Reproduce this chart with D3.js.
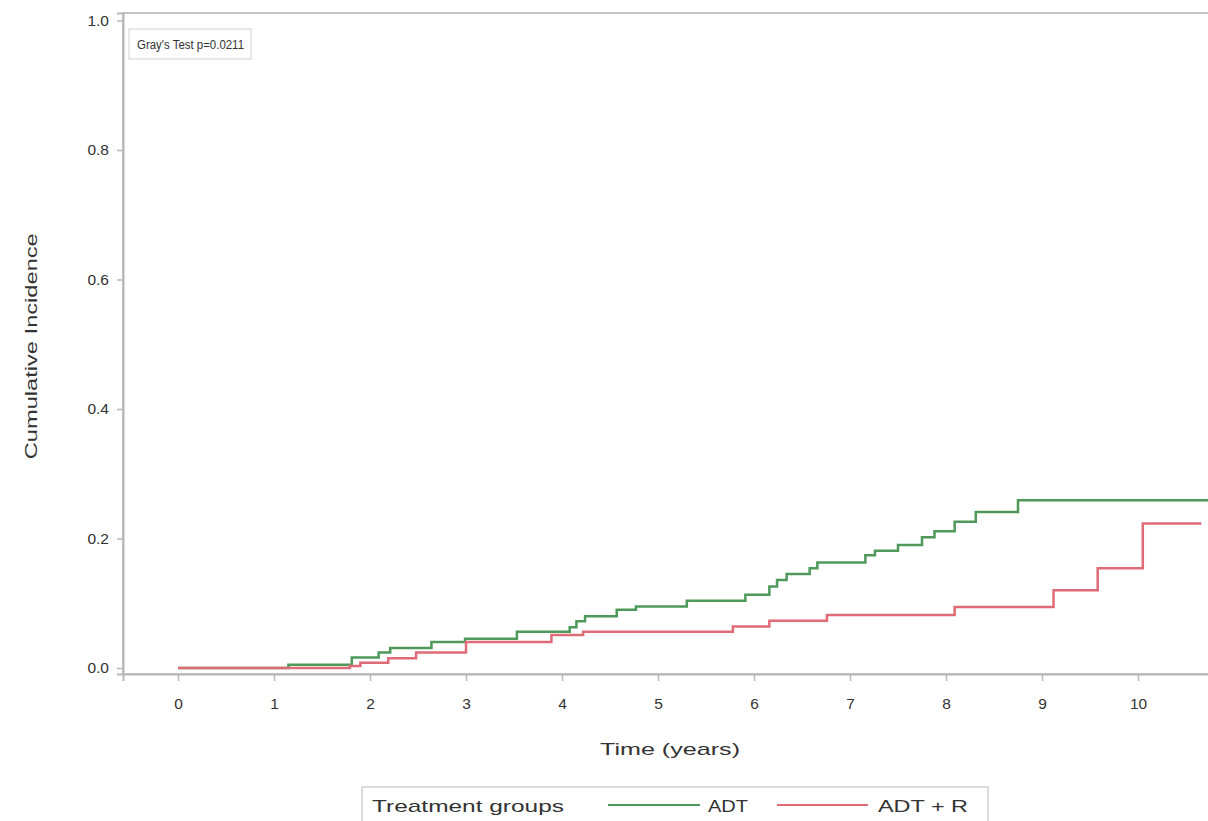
<!DOCTYPE html>
<html>
<head>
<meta charset="utf-8">
<script src="https://cdn.jsdelivr.net/npm/d3@7/dist/d3.min.js"></script>
<style>
  html, body { margin: 0; padding: 0; background: #fff; }
  svg { display: block; }
  text { font-family: "Liberation Sans", Arial, sans-serif; fill: #333; }
</style>
</head>
<body>
<svg id="chart" width="1208" height="821"></svg>
<script>
// Cumulative incidence step estimates by treatment group: [time in years, incidence]
const adtSteps = [
  [0, 0], [1.15, 0.005], [1.81, 0.016], [2.09, 0.024], [2.21, 0.031], [2.64, 0.040],
  [2.99, 0.045], [3.53, 0.056], [4.08, 0.063], [4.15, 0.072], [4.24, 0.080],
  [4.57, 0.090], [4.77, 0.095], [5.30, 0.104], [5.91, 0.113], [6.16, 0.126],
  [6.24, 0.136], [6.34, 0.145], [6.58, 0.154], [6.66, 0.163], [7.16, 0.174],
  [7.26, 0.181], [7.50, 0.190], [7.75, 0.202], [7.88, 0.211], [8.09, 0.226],
  [8.31, 0.241], [8.75, 0.259], [10.75, 0.259]
];
const adtRSteps = [
  [0, 0], [1.79, 0.003], [1.90, 0.008], [2.19, 0.015], [2.48, 0.024], [3.00, 0.040],
  [3.89, 0.051], [4.22, 0.056], [5.78, 0.064], [6.16, 0.073], [6.76, 0.082],
  [8.09, 0.094], [9.12, 0.120], [9.58, 0.154], [10.05, 0.223], [10.66, 0.223]
];
const groupNames = ["ADT", "ADT + R"];
const groupColors = ["#4f9a5b", "#df6b76"];
const xTicks = [0, 1, 2, 3, 4, 5, 6, 7, 8, 9, 10];
const yTicks = [0, 0.2, 0.4, 0.6, 0.8, 1.0];
const testLabel = "Gray's Test p=0.0211";

const svg = d3.select("#chart");
const FONT = "'Liberation Sans', Arial, sans-serif";

// Scales: one year ≈ 96 px; the frame continues past the right edge
const x = d3.scaleLinear().domain([-0.573, 11]).range([123, 1234]);
const y = d3.scaleLinear().domain([-0.0093, 1.0116]).range([674, 13]);

// Plot frame (top and left visible in window)
svg.append("rect")
  .attr("x", x(-0.573)).attr("y", y(1.0116))
  .attr("width", x(11) - x(-0.573)).attr("height", y(-0.0093) - y(1.0116))
  .attr("fill", "none").attr("stroke", "#c4c4c4").attr("stroke-width", 2);

// Y axis
const yAxis = svg.append("g")
  .attr("transform", `translate(${x(-0.573)},0)`)
  .call(d3.axisLeft(y).tickValues(yTicks).tickFormat(d3.format(".1f")).tickSize(6).tickPadding(8));
yAxis.select(".domain").attr("stroke", "#b8b8b8").attr("stroke-width", 2);
yAxis.selectAll(".tick line").attr("stroke", "#b8b8b8").attr("stroke-width", 1.5);
yAxis.selectAll(".tick text").attr("font-size", 15.5).attr("fill", "#333").attr("font-family", FONT);

// X axis
const xAxis = svg.append("g")
  .attr("transform", `translate(0,${y(-0.0093)})`)
  .call(d3.axisBottom(x).tickValues(xTicks).tickFormat(d3.format("d")).tickSize(7).tickPadding(17));
xAxis.select(".domain").attr("stroke", "#b8b8b8").attr("stroke-width", 2);
xAxis.selectAll(".tick line").attr("stroke", "#b8b8b8").attr("stroke-width", 1.5);
xAxis.selectAll(".tick text").attr("font-size", 15.5).attr("fill", "#333").attr("font-family", FONT);

// Axis titles
svg.append("text")
  .attr("x", 670).attr("y", 755)
  .attr("text-anchor", "middle").attr("font-size", 17)
  .attr("textLength", 140).attr("lengthAdjust", "spacingAndGlyphs")
  .text("Time (years)");
svg.append("text")
  .attr("transform", `translate(37,${y(0.5) + 2}) rotate(-90)`)
  .attr("text-anchor", "middle").attr("font-size", 16)
  .attr("textLength", 226).attr("lengthAdjust", "spacingAndGlyphs")
  .text("Cumulative Incidence");

// Step curves
const line = d3.line()
  .x(d => x(d[0]))
  .y(d => y(d[1]))
  .curve(d3.curveStepAfter);

[adtSteps, adtRSteps].forEach((series, i) => {
  svg.append("path")
    .datum(series)
    .attr("fill", "none")
    .attr("stroke", groupColors[i])
    .attr("stroke-width", 2.5)
    .attr("d", line);
});

// Test annotation box
const note = svg.append("g").attr("transform", "translate(129,29)");
note.append("rect")
  .attr("x", 0).attr("y", 0)
  .attr("width", 122).attr("height", 30)
  .attr("fill", "#fff").attr("stroke", "#cfcfcf").attr("stroke-width", 1);
note.append("text")
  .attr("x", 8).attr("y", 20)
  .attr("font-size", 12.5)
  .attr("textLength", 107).attr("lengthAdjust", "spacingAndGlyphs")
  .text(testLabel);

// Legend
const legend = svg.append("g").attr("transform", "translate(362,787)");
legend.append("rect")
  .attr("x", 0).attr("y", 0).attr("width", 626).attr("height", 44)
  .attr("fill", "#fff").attr("stroke", "#cfcfcf").attr("stroke-width", 1.5);
legend.append("text")
  .attr("x", 10).attr("y", 25).attr("font-size", 17)
  .attr("textLength", 192).attr("lengthAdjust", "spacingAndGlyphs")
  .text("Treatment groups");
const legendItems = [
  { line: [246, 338], label: 346, len: 40 },
  { line: [415, 506], label: 516, len: 90 }
];
legendItems.forEach((it, i) => {
  legend.append("line")
    .attr("x1", it.line[0]).attr("x2", it.line[1])
    .attr("y1", 18).attr("y2", 18)
    .attr("stroke", groupColors[i]).attr("stroke-width", 2);
  legend.append("text")
    .attr("x", it.label).attr("y", 25).attr("font-size", 17)
    .attr("textLength", it.len).attr("lengthAdjust", "spacingAndGlyphs")
    .text(groupNames[i]);
});
</script>
</body>
</html>
